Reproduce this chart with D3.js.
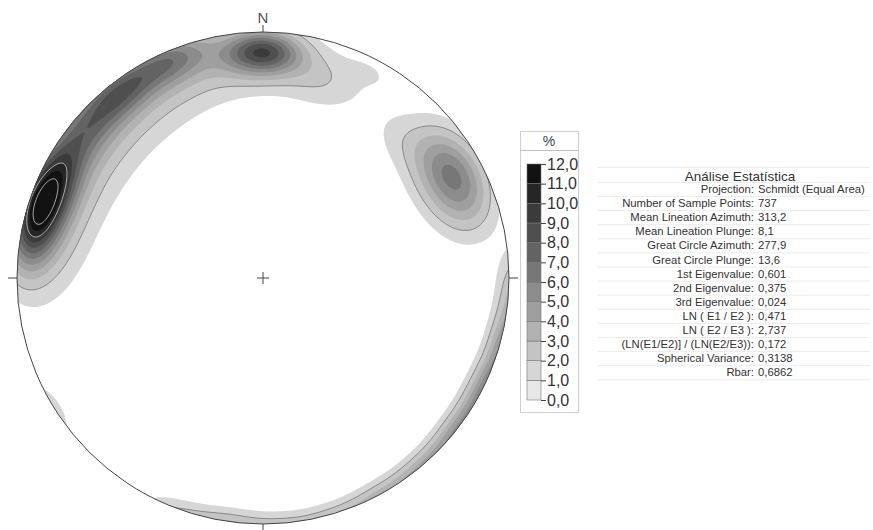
<!DOCTYPE html>
<html><head><meta charset="utf-8">
<script src="https://cdn.jsdelivr.net/npm/d3@7"></script>
<style>
body{margin:0;background:#fff}
svg{display:block}
text{font-family:"Liberation Sans",Arial,sans-serif}
</style>
</head><body>
<svg id="c" width="873" height="530"></svg>
<script>
// ---- Data: density concentrations (trend°, plunge°, peak %, spread°)
const concTrend  = [282, 305, 330, 352, 12,  278, 285, 294, 310, 323, 337, 0,   18,  28,  62,  44,  92,  104, 116, 128, 140, 152, 164, 176, 188, 200, 238];
const concPlunge = [10,  12,  12,  11,  14,  4,   6,   7,   6,   5,   4,   9,   18,  6,   14,  22,  -3,  -3,  -2,  -2,  -3,  -3,  -4,  -4,  -3,  -4,  -3];
const concPeak   = [2.3, 2.2, 2.0, 1.8, 1.0, 1.5, 6.0, 6.0, 3.8, 4.6, 4.2, 7.4, 1.1, 0.8, 6.4, 0.8, 2.6, 4.5, 5.0, 4.6, 4.0, 3.4, 2.8, 2.6, 3.0, 2.2, 1.6];
const concSpread = [13,  14,  13,  11,  9,   7,   7.5, 7.5, 8,   7,   7,   6.5, 8,   5,   9.5, 7,   6,   6,   6,   6,   6,   6,   6,   6,   6,   6,   6];

const levels      = [0,1,2,3,4,5,6,7,8,9,10,11,12];
const levelLabels = ["0,0","1,0","2,0","3,0","4,0","5,0","6,0","7,0","8,0","9,0","10,0","11,0","12,0"];
const binColors   = ["#e8e8e8","#d6d6d6","#c4c4c4","#b2b2b2","#9f9f9f","#8c8c8c","#777777","#636363","#4f4f4f","#3b3b3b","#262626","#121212"];

const statTitle  = "Análise Estatística";
const statLabels = ["Projection:","Number of Sample Points:","Mean Lineation Azimuth:","Mean Lineation Plunge:","Great Circle Azimuth:","Great Circle Plunge:","1st Eigenvalue:","2nd Eigenvalue:","3rd Eigenvalue:","LN ( E1 / E2 ):","LN ( E2 / E3 ):","(LN(E1/E2)] / (LN(E2/E3)):","Spherical Variance:","Rbar:"];
const statValues = ["Schmidt (Equal Area)","737","313,2","8,1","277,9","13,6","0,601","0,375","0,024","0,471","2,737","0,172","0,3138","0,6862"];

// ---- Layout
const svg = d3.select("#c");
const cx = 263, cy = 278, R = 246;
const rad = Math.PI/180;

function vec(t, p){ return [Math.cos(p*rad)*Math.cos(t*rad), Math.cos(p*rad)*Math.sin(t*rad), Math.sin(p*rad)]; }
const concVec = concTrend.map((t,i)=>vec(t, concPlunge[i]));

// equal-area (Schmidt) inverse for a pixel
function density(px, py){
  const dx = px - cx, dy = py - cy;
  const r = Math.sqrt(dx*dx+dy*dy);
  const s = Math.min(r/(R*Math.SQRT2), 1);
  const colat = 2*Math.asin(s)/rad;
  const p = 90 - colat;
  const t = Math.atan2(dx, -dy)/rad;
  const v = vec(t, p);
  let d = 0;
  for (let i=0;i<concVec.length;i++){
    const c = concVec[i];
    const dot = Math.max(-1, Math.min(1, v[0]*c[0]+v[1]*c[1]+v[2]*c[2]));
    const a = Math.acos(dot)/rad;
    d += concPeak[i]*Math.exp(-a*a/(2*concSpread[i]*concSpread[i]));
  }
  return d;
}

const step = 2;
const x0 = cx - R - 6, y0 = cy - R - 6;
const n = Math.ceil((2*R+12)/step);
const grid = new Array(n*n);
for (let j=0;j<n;j++) for (let i=0;i<n;i++) grid[i+j*n] = density(x0+(i+0.5)*step, y0+(j+0.5)*step);

const contourThresholds = levels.slice(1);
const contours = d3.contours().size([n,n]).thresholds(contourThresholds)(grid);
const path = d3.geoPath(d3.geoIdentity().scale(step).translate([x0,y0]));

svg.append("defs").append("clipPath").attr("id","disk")
  .append("circle").attr("cx",cx).attr("cy",cy).attr("r",R);

const color = d3.scaleThreshold().domain(levels.slice(1,12)).range(binColors);

const g = svg.append("g").attr("clip-path","url(#disk)");
g.append("circle").attr("cx",cx).attr("cy",cy).attr("r",R).attr("fill","#fff");
g.selectAll("path.fill").data(contours).join("path")
  .attr("class","fill")
  .attr("d", path)
  .attr("fill", d => color(d.value + 0.5));
// contour lines
const lineLevels = [2, 10, 12];
g.selectAll("path.line").data(contours.filter(c=>lineLevels.includes(c.value))).join("path")
  .attr("class","line")
  .attr("d", path)
  .attr("fill","none")
  .attr("stroke", d => d.value >= 10 ? "#c8c8c8" : "#777")
  .attr("stroke-width", 0.8);

// primitive circle, ticks
svg.append("circle").attr("cx",cx).attr("cy",cy).attr("r",R)
  .attr("fill","none").attr("stroke","#444").attr("stroke-width",1);
const tk = [[cx,cy-R-7,cx,cy-R],[cx,cy+R,cx,cy+R+7],[cx-R-9,cy,cx-R,cy],[cx+R,cy,cx+R+9,cy],[cx-6,cy,cx+6,cy],[cx,cy-6,cx,cy+6]];
svg.selectAll("line.tk").data(tk).join("line").attr("class","tk")
  .attr("x1",d=>d[0]).attr("y1",d=>d[1]).attr("x2",d=>d[2]).attr("y2",d=>d[3])
  .attr("stroke","#444").attr("stroke-width",1);
svg.append("text").attr("x",cx).attr("y",cy-R-9).attr("text-anchor","middle")
  .attr("font-size",15).attr("fill","#555").text("N");

// ---- Legend
const lg = svg.append("g");
lg.append("rect").attr("x",520.5).attr("y",131.5).attr("width",58).attr("height",281)
  .attr("fill","#fff").attr("stroke","#cfcfcf");
lg.append("line").attr("x1",520.5).attr("x2",578.5).attr("y1",150.5).attr("y2",150.5).attr("stroke","#bdbdbd");
lg.append("text").attr("x",549).attr("y",146).attr("text-anchor","middle").attr("font-size",14).attr("fill","#444").text("%");
const ly = d3.scaleLinear().domain([0,12]).range([400,164]);
const bx = 527, bw = 14;
lg.selectAll("rect.bin").data(binColors).join("rect").attr("class","bin")
  .attr("x",bx).attr("width",bw)
  .attr("y",(c,i)=>ly(levels[i+1])).attr("height",(c,i)=>ly(levels[i])-ly(levels[i+1]))
  .attr("fill",c=>c).attr("stroke","#777").attr("stroke-width",0.6);
const axis = d3.axisRight(ly).tickValues(levels).tickFormat((d,i)=>levelLabels[i]).tickSize(5).tickPadding(1);
const ag = lg.append("g").attr("transform",`translate(${bx+bw},0)`).call(axis);
ag.select(".domain").remove();
ag.selectAll(".tick line").attr("stroke","#444");
ag.selectAll(".tick text").attr("font-size",16).attr("fill","#333").attr("font-family","Liberation Sans, Arial, sans-serif");

// ---- Stats table
const tg = svg.append("g");
const rowY = statLabels.map((s,i)=>189 + i*14.1);
const sepY = [167, 182].concat(rowY.map(y=>y+7));
tg.selectAll("line.sep").data(sepY).join("line").attr("class","sep")
  .attr("x1",598).attr("x2",870).attr("y1",d=>d+0.5).attr("y2",d=>d+0.5)
  .attr("stroke","#ececec");
tg.append("text").attr("x",740).attr("y",180.5).attr("text-anchor","middle")
  .attr("font-size",13.5).attr("fill","#333").text(statTitle);
tg.selectAll("text.lab").data(statLabels).join("text").attr("class","lab")
  .attr("x",754).attr("y",(d,i)=>rowY[i]+4).attr("text-anchor","end")
  .attr("font-size",11.3).attr("fill","#333").text(d=>d);
tg.selectAll("text.val").data(statValues).join("text").attr("class","val")
  .attr("x",758).attr("y",(d,i)=>rowY[i]+4)
  .attr("font-size",11.3).attr("fill","#333").text(d=>d);
</script>
</body></html>
